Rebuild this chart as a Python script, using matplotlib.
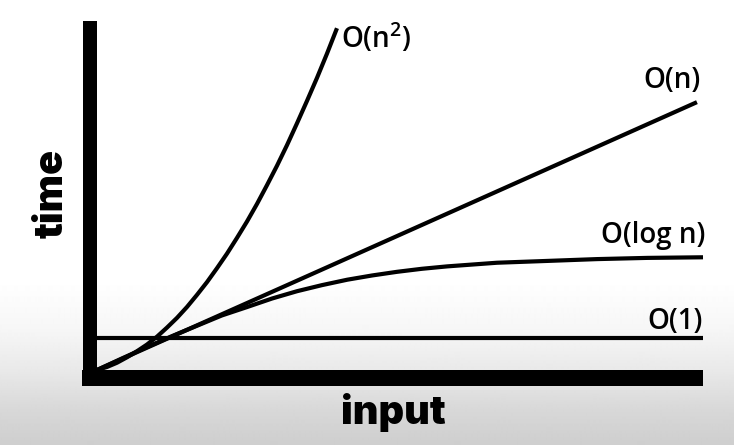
import matplotlib
matplotlib.use("Agg")
import matplotlib.pyplot as plt
import numpy as np

plt.rcParams["mathtext.fontset"] = "custom"
plt.rcParams["mathtext.rm"] = "Open Sans:semibold"
plt.rcParams["mathtext.it"] = "Open Sans:semibold"
plt.rcParams["mathtext.bf"] = "Open Sans:bold"

# values, in "input" / "time" units
# (one unit is about 60.6 px in the picture)
quad_x = [0, 0.165, 0.33, 0.495, 0.66, 0.825, 0.99, 1.155, 1.32, 1.485, 1.65, 1.815, 1.98,
          2.145, 2.31, 2.475, 2.64, 2.805, 2.97, 3.135, 3.30, 3.465, 3.63, 3.795, 3.96]
quad_y = [0, 0.05, 0.12, 0.21, 0.31, 0.42, 0.55, 0.70, 0.86, 1.04, 1.24, 1.45, 1.68,
          1.92, 2.18, 2.45, 2.74, 3.05, 3.37, 3.71, 4.07, 4.44, 4.82, 5.22, 5.64]

lin_x = [0, 9.90]
lin_y = [0, 4.42]

log_x = [0, 0.41, 0.83, 1.24, 1.65, 2.06, 2.48, 2.89, 3.30, 3.71, 4.13, 4.54, 4.95,
         5.36, 5.78, 6.19, 6.60, 7.43, 8.25, 9.08, 10.0]
log_y = [0, 0.19, 0.38, 0.56, 0.73, 0.90, 1.04, 1.18, 1.30, 1.40, 1.49, 1.56, 1.62,
         1.67, 1.71, 1.74, 1.77, 1.80, 1.83, 1.85, 1.86]

const_x = [0, 10.0]
const_y = [0.53, 0.53]

curve_labels = ["O(n$^{2}$)", "O(n)", "O(log n)", "O(1)"]

# background grey ramp at the bottom of the frame
ramp_px = [0, 280, 330, 370, 410, 445]
ramp_grey = [255, 255, 246, 233, 216, 206]

W, H = 734, 445

fig = plt.figure(figsize=(W / 100, H / 100), dpi=100)

bg = fig.add_axes([0, 0, 1, 1], zorder=-5)
rows = np.interp(np.arange(H), ramp_px, ramp_grey) / 255.0
bg.imshow(np.repeat(rows[:, None], 2, axis=1), cmap="gray", vmin=0, vmax=1,
          aspect="auto", extent=[0, 1, 0, 1], interpolation="bilinear")
bg.set_axis_off()

left, right, top, bottom = 90, 695, 28, 378
ax = fig.add_axes([left / W, (H - bottom) / H, (right - left) / W, (bottom - top) / H])
ax.patch.set_alpha(0)
ax.set_xlim((left - 97) / 60.6, (right - 97) / 60.6)
ax.set_ylim((370 - bottom) / 60.6, (370 - top) / 60.6)

for side in ["top", "right"]:
    ax.spines[side].set_visible(False)
ax.spines["left"].set_linewidth(14 * 0.72)
ax.spines["bottom"].set_linewidth(16 * 0.72)
for side in ["left", "bottom"]:
    ax.spines[side].set_capstyle("projecting")
    ax.spines[side].set_color("black")
ax.set_xticks([])
ax.set_yticks([])

lw = 3.0
series = [(quad_x, quad_y), (lin_x, lin_y), (log_x, log_y), (const_x, const_y)]
for xs, ys in series:
    ax.plot(xs, ys, color="black", lw=lw, solid_capstyle="butt",
            solid_joinstyle="round", clip_on=False, zorder=3)

label_font = dict(family=["Open Sans", "DejaVu Sans"], fontsize=20, fontweight="semibold", color="black")
# label offsets in pixels from each curve's end point
offsets = [(4, -20, "left"), (4, 14, "right"), (2, 14, "right"), (0, 9, "right")]
for (xs, ys), text, (dx, dy, ha) in zip(series, curve_labels, offsets):
    ax.annotate(text, xy=(xs[-1], ys[-1]), xytext=(dx * 0.72, dy * 0.72),
                textcoords="offset points", ha=ha, va="baseline",
                annotation_clip=False, **label_font)

axis_font = dict(family=["Inter", "DejaVu Sans"], fontsize=28.5, fontweight="black", color="black")
fig.text(52 / W, 1 - 194 / H, "time", rotation=90, ha="center", va="center", **axis_font)
fig.text(393 / W, 1 - 413 / H, "input", ha="center", va="center", **axis_font)

fig.savefig("out.png", dpi=100)
